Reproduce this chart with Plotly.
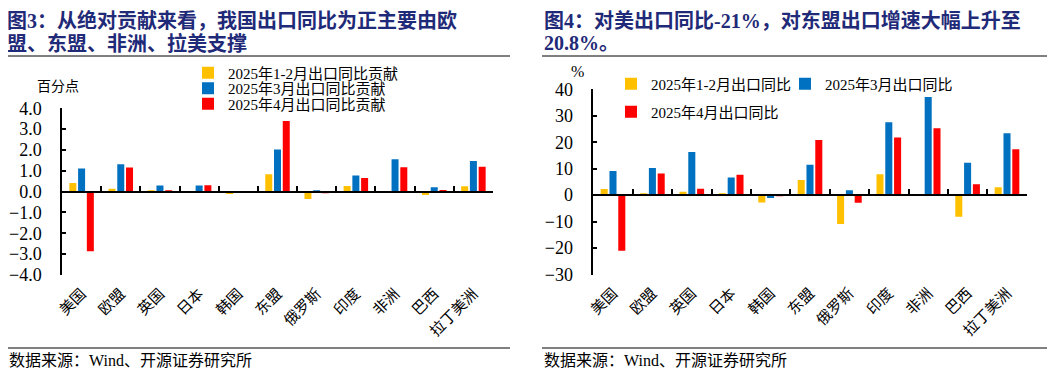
import plotly.graph_objects as go

categories = ["美国", "欧盟", "英国", "日本", "韩国", "东盟", "俄罗斯", "印度", "非洲", "巴西", "拉丁美洲"]

# Figure 3: contribution (percentage points)
contrib_jan_feb = [0.41, 0.14, 0.05, 0.01, -0.11, 0.83, -0.35, 0.27, -0.02, -0.16, 0.26]
contrib_mar = [1.11, 1.32, 0.30, 0.29, -0.03, 2.02, 0.06, 0.77, 1.56, 0.21, 1.47]
contrib_apr = [-2.86, 1.16, 0.05, 0.31, -0.01, 3.39, -0.05, 0.66, 1.17, 0.08, 1.20]

# Figure 4: yoy growth (%)
yoy_jan_feb = [2.3, 0.5, 1.3, 0.5, -2.8, 5.7, -10.9, 7.9, 0.1, -8.2, 3.0]
yoy_mar = [9.1, 10.3, 16.3, 6.7, -1.1, 11.5, 1.8, 27.5, 37.1, 12.2, 23.4]
yoy_apr = [-21.0, 8.2, 2.4, 7.7, -0.2, 20.8, -2.9, 21.8, 25.3, 4.1, 17.3]

names_left = ["2025年1-2月出口同比贡献", "2025年3月出口同比贡献", "2025年4月出口同比贡献"]
names_right = ["2025年1-2月出口同比", "2025年3月出口同比", "2025年4月出口同比"]
colors = ["#FFC000", "#0070C0", "#FF0000"]

# page body has an 8px margin: figure is sized to fit the 1057x374 window
OFF = 8
FW, FH = 1057 - OFF, 374 - OFF
SERIF = "Liberation Serif, Noto Sans CJK SC"
CJK = "Noto Sans CJK SC, Liberation Serif"
NAVY = "#1F2A78"

def px(x):
    return (x - OFF) / FW

def py(y):
    return 1 - (y - OFF) / FH

fig = go.Figure()

left_legends = ["legend", "legend5", "legend6"]
for vals, name, col, lg in zip([contrib_jan_feb, contrib_mar, contrib_apr], names_left, colors, left_legends):
    fig.add_trace(go.Bar(x=categories, y=vals, name=name, marker=dict(color=col, line=dict(width=0)),
                         xaxis="x", yaxis="y", legend=lg))

right_legends = ["legend2", "legend3", "legend4"]
for vals, name, col, lg in zip([yoy_jan_feb, yoy_mar, yoy_apr], names_right, colors, right_legends):
    fig.add_trace(go.Bar(x=categories, y=vals, name=name, marker=dict(color=col, line=dict(width=0)),
                         xaxis="x2", yaxis="y2", legend=lg))

# invisible helper traces for zero-line category axes (tick marks at boundaries)
fig.add_trace(go.Scatter(x=categories, y=[0] * len(categories), mode="markers", marker=dict(opacity=0),
                         showlegend=False, hoverinfo="skip", xaxis="x3", yaxis="y"))
fig.add_trace(go.Scatter(x=categories, y=[0] * len(categories), mode="markers", marker=dict(opacity=0),
                         showlegend=False, hoverinfo="skip", xaxis="x4", yaxis="y2"))

# domains
L_x = [px(62), px(493)]
L_y = [py(275), py(108.3)]
R_x = [px(593.3), px(1026.7)]
R_y = [py(274.5), py(89.3)]
L_zero = L_y[0] + (0 - (-4)) / 8 * (L_y[1] - L_y[0])
R_zero = R_y[0] + (0 - (-30)) / 70 * (R_y[1] - R_y[0])

axis_line = dict(showline=True, linecolor="#000000", linewidth=1.5)
xlab = dict(type="category", range=[-0.5, 10.5], showline=False, ticks="", tickangle=-45,
            tickfont=dict(family=CJK, size=15, color="#000"), showgrid=False, zeroline=False,
            ticklabelstandoff=6)
zero_ax = dict(type="category", range=[-0.5, 10.5], anchor="free", showticklabels=False,
               ticks="inside", ticklen=5, tickcolor="#000", tickwidth=1.5, tickson="boundaries",
               showgrid=False, zeroline=False, **axis_line)
yax = dict(ticks="inside", ticklen=4, tickcolor="#000", tickwidth=1.5, showgrid=False, zeroline=False,
           tickfont=dict(family=SERIF, size=18, color="#000"), ticklabelstandoff=15, **axis_line)

LEG_FONT = dict(family=SERIF, size=15, color="#000")

def leg(xtext, ycenter):
    return dict(x=px(xtext - 39), y=py(ycenter), xanchor="left", yanchor="middle", orientation="h",
                font=LEG_FONT, bgcolor="rgba(0,0,0,0)", itemwidth=30)

fig.update_layout(
    width=FW, height=FH,
    margin=dict(l=0, r=0, t=0, b=0, autoexpand=False),
    paper_bgcolor="white", plot_bgcolor="white",
    barmode="group", bargap=0.33, bargroupgap=0.2,
    xaxis=dict(domain=L_x, anchor="y", **xlab),
    xaxis2=dict(domain=R_x, anchor="y2", **xlab),
    xaxis3=dict(overlaying="x", position=L_zero, **zero_ax),
    xaxis4=dict(overlaying="x2", position=R_zero, **zero_ax),
    yaxis=dict(domain=L_y, anchor="x", range=[-4, 4], dtick=1, tickformat=".1f", **yax),
    yaxis2=dict(domain=R_y, anchor="x2", range=[-30, 40], dtick=10, **yax),
    legend=leg(227, 73),
    legend5=leg(227, 88.5),
    legend6=leg(227, 104),
    legend2=leg(650, 84),
    legend3=leg(824, 84),
    legend4=leg(650, 112),
    showlegend=True,
)

title_font = dict(family=SERIF, size=20, color=NAVY, weight="bold")
ann = [
    dict(text="图3：从绝对贡献来看，我国出口同比为正主要由欧", x=px(6), y=1, yanchor="top"),
    dict(text="盟、东盟、非洲、拉美支撑", x=px(6), y=py(43), yanchor="middle"),
    dict(text="图4：对美出口同比-21%，对东盟出口增速大幅上升至", x=px(543), y=1, yanchor="top"),
    dict(text="20.8%。", x=px(543), y=py(43), yanchor="middle"),
]
for a in ann:
    fig.add_annotation(xref="paper", yref="paper", xanchor="left", showarrow=False, borderpad=0,
                       font=title_font, **a)

small = dict(family=CJK, size=14, color="#000")
fig.add_annotation(text="百分点", x=px(58), y=py(85), xref="paper", yref="paper", xanchor="center",
                   yanchor="middle", showarrow=False, font=small)
fig.add_annotation(text="%", x=px(577), y=py(72), xref="paper", yref="paper", xanchor="center",
                   yanchor="middle", showarrow=False, font=dict(family=SERIF, size=16, color="#000"))
src_font = dict(family=SERIF, size=16, color="#000")
for xs in [7, 542]:
    fig.add_annotation(text="数据来源：Wind、开源证券研究所", x=px(xs), y=py(360), xref="paper", yref="paper",
                       xanchor="left", yanchor="middle", showarrow=False, font=src_font)

# rules under titles and above sources
for x0, x1 in [(5, 510), (542, 1047)]:
    fig.add_shape(type="line", xref="paper", yref="paper", x0=px(x0), x1=px(x1), y0=py(56), y1=py(56),
                  line=dict(color="#000", width=1))
    fig.add_shape(type="line", xref="paper", yref="paper", x0=px(x0), x1=px(x1), y0=py(348), y1=py(348),
                  line=dict(color="#000", width=1))

fig.write_html("out.html")
